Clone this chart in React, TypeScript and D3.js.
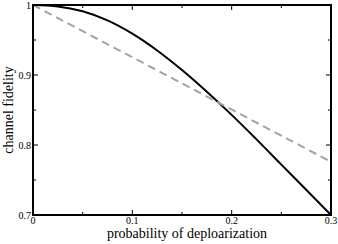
import React, { useEffect, useRef } from "react";
import * as d3 from "d3";

// values
const depolProb = [0, 0.025, 0.05, 0.075, 0.1, 0.125, 0.15, 0.175, 0.2, 0.225, 0.25, 0.275, 0.3];
const fidelitySolid = [1.0, 0.998, 0.991, 0.978, 0.959, 0.935, 0.907, 0.876, 0.843, 0.808, 0.772, 0.736, 0.7];
const dashedProb = [0, 0.3];
const fidelityDashed = [1.0, 0.776];

const xTicks = [0, 0.1, 0.2, 0.3];
const xMinor = [0.05, 0.15, 0.25];
const yTicks = [0.7, 0.8, 0.9, 1];
const yMinor = [0.75, 0.85, 0.95];
const xTickLabels = ["0", "0.1", "0.2", "0.3"];
const yTickLabels = ["0.7", "0.8", "0.9", "1"];

export default function App() {
  const ref = useRef<SVGSVGElement>(null);

  useEffect(() => {
    const W = 338, H = 244;
    const margin = { top: 5, right: 7, bottom: 29, left: 33 };
    const w = W - margin.left - margin.right;
    const h = H - margin.top - margin.bottom;

    const svg = d3.select(ref.current);
    svg.selectAll("*").remove();
    const g = svg.append("g").attr("transform", `translate(${margin.left},${margin.top})`);

    const x = d3.scaleLinear().domain([0, 0.3]).range([0, w]);
    const y = d3.scaleLinear().domain([0.7, 1]).range([h, 0]);

    const font = "'Liberation Serif', 'DejaVu Serif', serif";

    // curves
    const line = d3.line<number>()
      .x((d, i) => x(depolProb[i]))
      .y(d => y(d))
      .curve(d3.curveMonotoneX);

    g.append("path")
      .attr("d", line(fidelitySolid))
      .attr("fill", "none")
      .attr("stroke", "#000")
      .attr("stroke-width", 2);

    const dline = d3.line<number>()
      .x((d, i) => x(dashedProb[i]))
      .y(d => y(d));

    g.append("path")
      .attr("d", dline(fidelityDashed))
      .attr("fill", "none")
      .attr("stroke", "#a3a3a3")
      .attr("stroke-width", 2)
      .attr("stroke-dasharray", "8,5");

    // ticks on all four sides, pointing inward
    const tick = (vals: number[], len: number) => {
      vals.forEach(v => {
        g.append("line").attr("x1", x(v)).attr("x2", x(v)).attr("y1", h).attr("y2", h - len)
          .attr("stroke", "#000").attr("stroke-width", 1);
        g.append("line").attr("x1", x(v)).attr("x2", x(v)).attr("y1", 0).attr("y2", len)
          .attr("stroke", "#000").attr("stroke-width", 1);
      });
    };
    const ytick = (vals: number[], len: number) => {
      vals.forEach(v => {
        g.append("line").attr("x1", 0).attr("x2", len).attr("y1", y(v)).attr("y2", y(v))
          .attr("stroke", "#000").attr("stroke-width", 1);
        g.append("line").attr("x1", w).attr("x2", w - len).attr("y1", y(v)).attr("y2", y(v))
          .attr("stroke", "#000").attr("stroke-width", 1);
      });
    };
    tick(xTicks, 5);
    tick(xMinor, 3);
    ytick(yTicks, 5);
    ytick(yMinor, 3);

    // frame
    g.append("rect")
      .attr("x", 0).attr("y", 0).attr("width", w).attr("height", h)
      .attr("fill", "none").attr("stroke", "#000").attr("stroke-width", 2);

    // tick labels
    g.selectAll(".xl").data(xTicks).join("text")
      .attr("class", "xl")
      .attr("x", d => x(d)).attr("y", h + 9)
      .attr("text-anchor", "middle")
      .attr("font-family", font).attr("font-size", 10)
      .text((d, i) => xTickLabels[i]);

    g.selectAll(".yl").data(yTicks).join("text")
      .attr("class", "yl")
      .attr("x", -2).attr("y", d => y(d) + 3.5)
      .attr("text-anchor", "end")
      .attr("font-family", font).attr("font-size", 10)
      .text((d, i) => yTickLabels[i]);

    // axis titles
    svg.append("text")
      .attr("x", margin.left + w / 2 + 5).attr("y", 238)
      .attr("text-anchor", "middle")
      .attr("font-family", font).attr("font-size", 14)
      .text("probability of deploarization");

    svg.append("text")
      .attr("transform", `translate(13,${margin.top + h / 2}) rotate(-90)`)
      .attr("text-anchor", "middle")
      .attr("font-family", font).attr("font-size", 14)
      .text("channel fidelity");
  }, []);

  return (
    <svg ref={ref} width={338} height={244}
      style={{ position: "absolute", left: 0, top: 0, background: "#fff" }} />
  );
}
